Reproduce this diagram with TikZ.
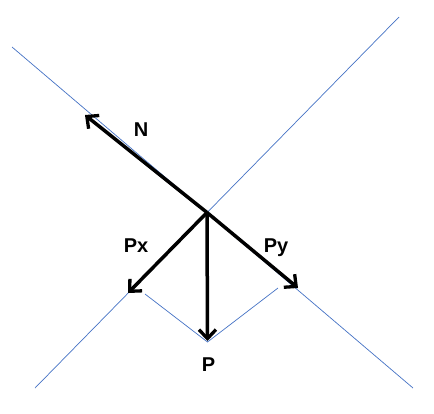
\documentclass[tikz,border=0pt]{standalone}
\usepackage{fontspec}
\setmainfont{Liberation Sans}
\usetikzlibrary{arrows.meta}
\begin{document}
\begin{tikzpicture}[x=1pt,y=-1pt,
  thinline/.style={draw={rgb,255:red,68;green,114;blue,196}, line width=0.7pt},
  force/.style={draw=black, line width=3.5pt, -{Straight Barb[length=9pt,width=17pt,line width=3.3pt]}},
  lbl/.style={font=\bfseries\fontsize{20}{20}\selectfont, inner sep=0pt}]
\useasboundingbox (0,0) rectangle (434,413);
% construction lines
\coordinate (A1) at (12,47);
\coordinate (A2) at (413,388);
\coordinate (B1) at (35,388);
\coordinate (B2) at (399,17);
\coordinate (O) at (207,212.5);
\coordinate (Ntip) at (85,115);
\coordinate (Pxtip) at (128,293);
\coordinate (Pytip) at (298,288);
\coordinate (Ptip) at (207.5,341);
\coordinate (L1) at (145,294);
\coordinate (R1) at (278,288);
\coordinate (Pbase) at (207.5,342);
\draw[thinline] (A1) -- (A2);
\draw[thinline] (B1) -- (B2);
\draw[thinline] (L1) -- (Pbase) -- (R1);
% forces
\draw[force] (O) -- (Ntip);
\draw[force] (O) -- (Pxtip);
\draw[force] (O) -- (Pytip);
\draw[force] (O) -- (Ptip);
% labels
\node[lbl] (N) at (141,130) {N};
\node[lbl, anchor=base] (Px) at (136,252.7) {Px};
\node[lbl, anchor=base] (Py) at (276,252.7) {Py};
\node[lbl, anchor=base] (P) at (208.5,371) {P};
\end{tikzpicture}
\end{document}
